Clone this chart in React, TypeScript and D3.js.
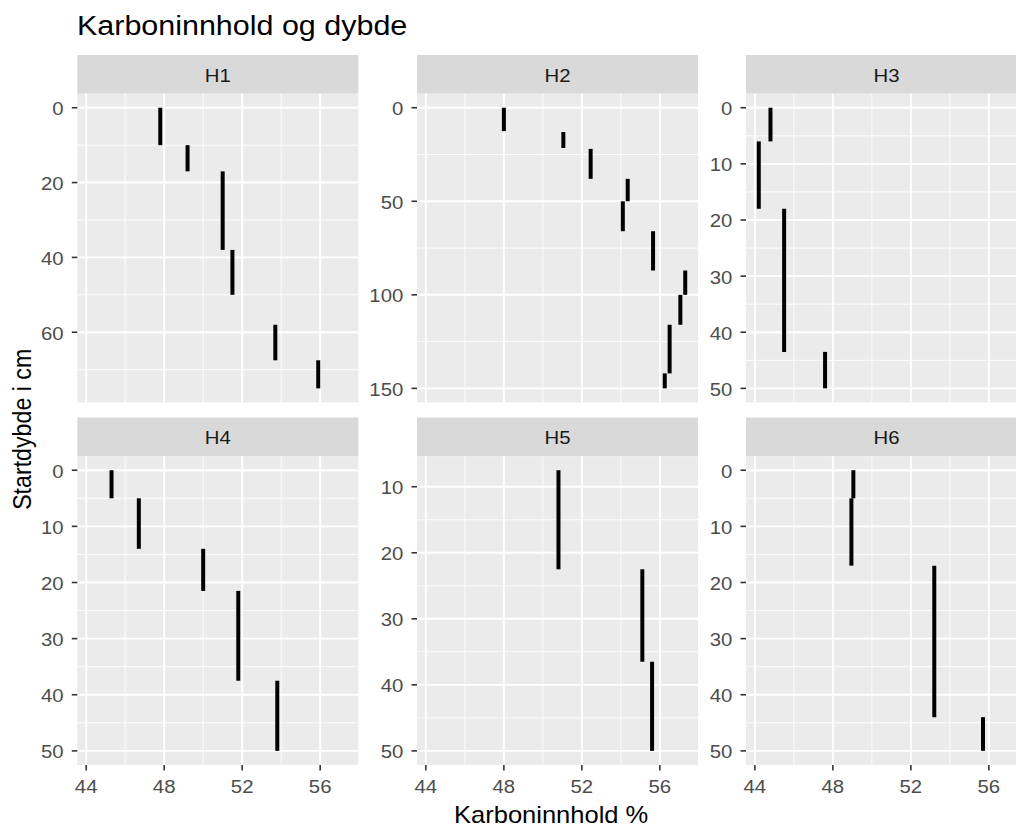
import React from "react";
import * as d3 from "d3";

// Carbon content (%) per sampled layer, with the start and end depth (cm) of each layer
const horizonNames = ["H1", "H2", "H3", "H4", "H5", "H6"];

const h1Carbon = [47.8, 49.2, 51.0, 51.5, 53.7, 55.9];
const h1Start = [0, 10, 17, 38, 58, 67.5];
const h1End = [10, 17, 38, 50, 67.5, 75];

const h2Carbon = [48.0, 51.05, 52.45, 54.35, 54.1, 55.65, 57.3, 57.05, 56.5, 56.25];
const h2Start = [0, 13, 22, 38, 50, 66, 87, 100, 116, 142];
const h2End = [12.5, 21.5, 38, 50, 66, 87, 100, 116, 142, 150];

const h3Carbon = [44.8, 44.2, 45.5, 47.6];
const h3Start = [0, 6, 18, 43.5];
const h3End = [6, 18, 43.5, 50];

const h4Carbon = [45.3, 46.7, 50.0, 51.8, 53.8];
const h4Start = [0, 5, 14, 21.5, 37.5];
const h4End = [5, 14, 21.5, 37.5, 50];

const h5Carbon = [50.8, 55.1, 55.6];
const h5Start = [7.5, 22.5, 36.5];
const h5End = [22.5, 36.5, 50];

const h6Carbon = [49.05, 48.95, 53.2, 55.7];
const h6Start = [0, 5, 17, 44];
const h6End = [5, 17, 44, 50];

// Axis breaks
const xTicks = [44, 48, 52, 56];
const h1Ticks = [0, 20, 40, 60];
const h2Ticks = [0, 50, 100, 150];
const h3Ticks = [0, 10, 20, 30, 40, 50];
const h4Ticks = [0, 10, 20, 30, 40, 50];
const h5Ticks = [10, 20, 30, 40, 50];
const h6Ticks = [0, 10, 20, 30, 40, 50];

const titleText = "Karboninnhold og dybde";
const xTitle = "Karboninnhold %";
const yTitle = "Startdybde i cm";

const W = 1016;
const H = 830;
const SX = 1.1; // horizontal stretch applied to text glyphs
const FONT = "'Liberation Sans', Arial, Helvetica, sans-serif";

const colLeft = [77.3, 417, 746];
const panelW = 281;
const rowTop = [55, 417.5];
const stripH = 38.7;
const panelH = 308.7;

function expand(lo: number, hi: number): [number, number] {
  const pad = (hi - lo) * 0.05;
  return [lo - pad, hi + pad];
}

function minorBreaks(major: number[], domain: [number, number]): number[] {
  const step = major[1] - major[0];
  const out: number[] = [];
  const ext = [major[0] - step, ...major, major[major.length - 1] + step];
  for (let i = 0; i < ext.length - 1; i++) {
    const m = (ext[i] + ext[i + 1]) / 2;
    if (m >= domain[0] && m <= domain[1]) out.push(m);
  }
  return out;
}

function SText(props: {
  x: number;
  y: number;
  size: number;
  anchor?: string;
  fill?: string;
  rotate?: boolean;
  children: React.ReactNode;
}) {
  const { x, y, size, anchor = "start", fill = "#000", rotate = false, children } = props;
  const t = `translate(${x},${y}) scale(${SX},1)` + (rotate ? " rotate(-90)" : "");
  return (
    <text transform={t} fontSize={size} fontFamily={FONT} textAnchor={anchor} fill={fill}>
      {children}
    </text>
  );
}

export default function App() {
  const horizons = [
    { carbon: h1Carbon, start: h1Start, end: h1End, ticks: h1Ticks },
    { carbon: h2Carbon, start: h2Start, end: h2End, ticks: h2Ticks },
    { carbon: h3Carbon, start: h3Start, end: h3End, ticks: h3Ticks },
    { carbon: h4Carbon, start: h4Start, end: h4End, ticks: h4Ticks },
    { carbon: h5Carbon, start: h5Start, end: h5End, ticks: h5Ticks },
    { carbon: h6Carbon, start: h6Start, end: h6End, ticks: h6Ticks },
  ].map((h, i) => ({ ...h, name: horizonNames[i] }));

  const allCarbon = horizons.flatMap((h) => h.carbon);
  const xDomain = expand(d3.min(allCarbon)!, d3.max(allCarbon)!);
  const xMinor = minorBreaks(xTicks, xDomain);

  const panelTop0 = rowTop[0] + stripH;
  const panelBottom1 = rowTop[1] + stripH + panelH;
  const spanLeft = colLeft[0];
  const spanRight = colLeft[2] + panelW;

  return (
    <svg
      width={W}
      height={H}
      style={{ position: "absolute", left: 0, top: 0, background: "#fff" }}
    >
      <rect x={0} y={0} width={W} height={H} fill="#fff" />

      <SText x={77} y={34.5} size={27.7}>
        {titleText}
      </SText>

      {horizons.map((h, i) => {
        const col = i % 3;
        const row = Math.floor(i / 3);
        const left = colLeft[col];
        const stripTop = rowTop[row];
        const top = stripTop + stripH;
        const bottom = top + panelH;

        const x = d3.scaleLinear().domain(xDomain).range([left, left + panelW]);
        const yDomain = expand(d3.min(h.start)!, d3.max(h.end)!);
        const y = d3.scaleLinear().domain(yDomain).range([top, bottom]);
        const yMinor = minorBreaks(h.ticks, yDomain);

        return (
          <g key={h.name}>
            <rect x={left} y={stripTop} width={panelW} height={stripH} fill="#D9D9D9" />
            <SText x={left + panelW / 2} y={stripTop + 26.6} size={18.5} anchor="middle" fill="#1A1A1A">
              {h.name}
            </SText>

            <rect x={left} y={top} width={panelW} height={panelH} fill="#EBEBEB" />

            {xMinor.map((v) => (
              <line key={`xm${v}`} x1={x(v)} x2={x(v)} y1={top} y2={bottom} stroke="#fff" strokeWidth={0.9} />
            ))}
            {yMinor.map((v) => (
              <line key={`ym${v}`} x1={left} x2={left + panelW} y1={y(v)} y2={y(v)} stroke="#fff" strokeWidth={0.9} />
            ))}
            {xTicks.map((v) => (
              <line key={`xM${v}`} x1={x(v)} x2={x(v)} y1={top} y2={bottom} stroke="#fff" strokeWidth={1.9} />
            ))}
            {h.ticks.map((v) => (
              <line key={`yM${v}`} x1={left} x2={left + panelW} y1={y(v)} y2={y(v)} stroke="#fff" strokeWidth={1.9} />
            ))}

            {h.carbon.map((c, k) => (
              <line
                key={`s${k}`}
                x1={x(c)}
                x2={x(c)}
                y1={y(h.start[k])}
                y2={y(h.end[k])}
                stroke="#000"
                strokeWidth={4}
              />
            ))}

            {h.ticks.map((v) => (
              <g key={`yt${v}`}>
                <line x1={left - 5.5} x2={left} y1={y(v)} y2={y(v)} stroke="#333333" strokeWidth={1.6} />
                <SText x={left - 13.7} y={y(v) + 7.4} size={18.5} anchor="end" fill="#4D4D4D">
                  {String(v)}
                </SText>
              </g>
            ))}

            {row === 1 &&
              xTicks.map((v) => (
                <g key={`xt${v}`}>
                  <line x1={x(v)} x2={x(v)} y1={bottom} y2={bottom + 5.5} stroke="#333333" strokeWidth={1.6} />
                  <SText x={x(v)} y={bottom + 28.3} size={18.5} anchor="middle" fill="#4D4D4D">
                    {String(v)}
                  </SText>
                </g>
              ))}
          </g>
        );
      })}

      <SText x={(spanLeft + spanRight) / 2 - 1} y={823} size={23.2} anchor="middle">
        {xTitle}
      </SText>
      <SText x={31} y={(panelTop0 + panelBottom1) / 2} size={23.2} anchor="middle" rotate>
        {yTitle}
      </SText>
    </svg>
  );
}
